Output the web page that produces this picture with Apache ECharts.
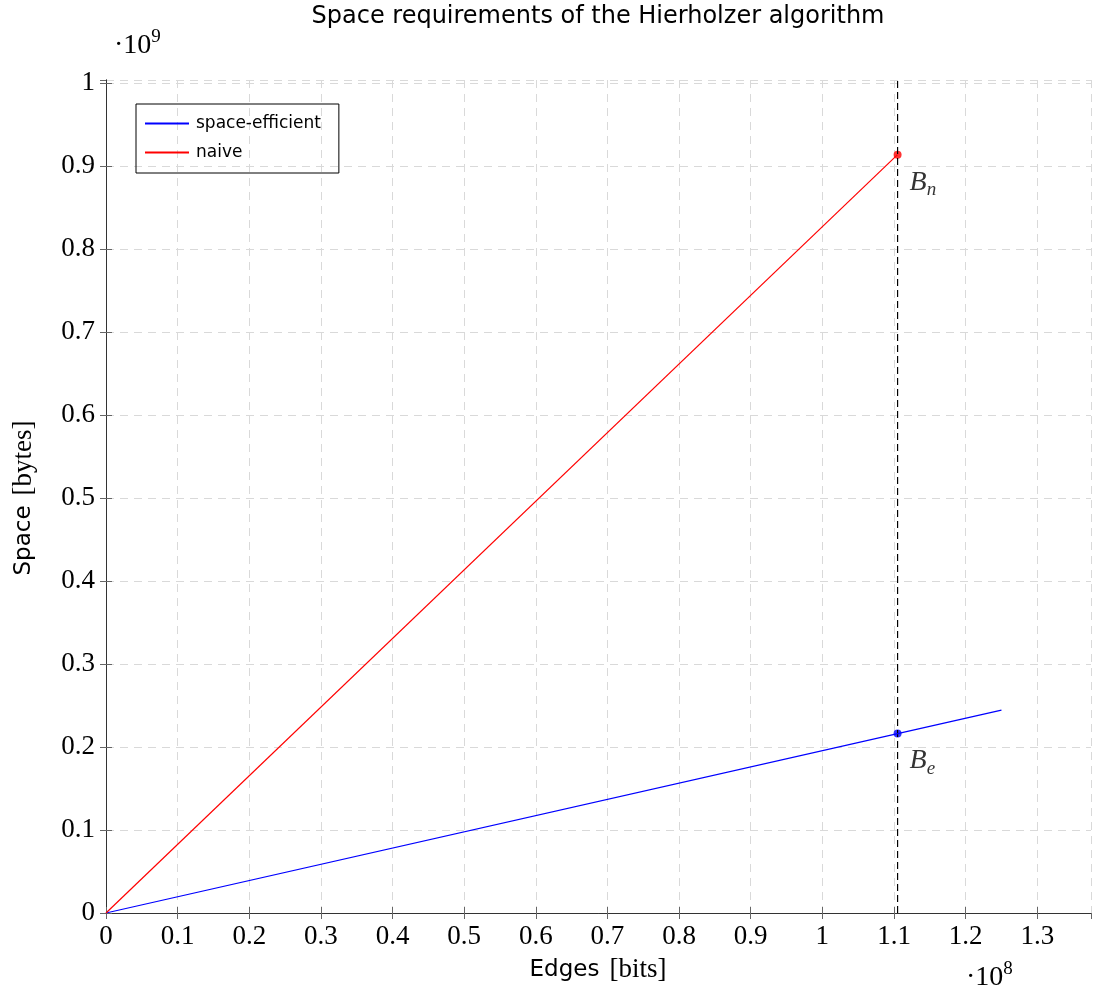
<!DOCTYPE html>
<html>
<head>
<meta charset="utf-8">
<script src="https://cdn.jsdelivr.net/npm/echarts@6/dist/echarts.min.js"></script>
<style>
  html, body { margin: 0; padding: 0; background: #fff; }
  #chart { width: 1094px; height: 994px; }
</style>
</head>
<body>
<div id="chart"></div>
<script>
// data, in axis units (x: 1e8 bits, y: 1e9 bytes)
var efficientX = [0, 1.105, 1.25]
var efficientY = [0, 0.2162, 0.2446]
var naiveX = [0, 1.105]
var naiveY = [0, 0.914]
var boundX = [1.105, 1.105]   // dashed marker line
var boundY = [0, 1.004]
var pointNames = ['n', 'e']   // subscripts of B_n, B_e
var pointX = [1.105, 1.105]
var pointY = [0.914, 0.2162]

var serif = '"Liberation Serif", "DejaVu Serif", serif'
var sans = '"DejaVu Sans", "Noto Sans", sans-serif'

function pairs(xs, ys) {
  return xs.map(function (x, i) { return [x, ys[i]] })
}

var myChart = echarts.init(document.getElementById('chart'))

var axisCommon = {
  type: 'value',
  interval: 0.1,
  axisLine: { show: true, lineStyle: { color: '#333', width: 1 } },
  axisTick: { show: true, inside: true, length: 6, lineStyle: { color: '#666' } },
  splitLine: { show: false }
}

// sans word + serif unit, like the LaTeX labels
var nameRich = {
  word: { fontFamily: sans, fontSize: 23, fill: '#000' },
  unit: { fontFamily: serif, fontSize: 27, fill: '#000', padding: [0, 0, 0, 10] }
}
var powRich = {
  d: { font: '28px ' + serif, fill: '#000' },
  e: { font: '19px ' + serif, fill: '#000', padding: [0, 0, 16, 0] }
}

var option = {
  animation: false,
  grid: { left: 106, right: 3, top: 80, bottom: 81, show: false, outerBoundsMode: 'none', containLabel: false },
  graphic: [
    {
      type: 'text', x: 598, y: 5,
      style: { text: 'Space requirements of the Hierholzer algorithm', font: '24px ' + sans, fill: '#000', align: 'center' }
    },
    { type: 'text', x: 114, y: 28, style: { text: '{d|·10}{e|9}', rich: powRich } },
    { type: 'text', x: 966, y: 960, style: { text: '{d|·10}{e|8}', rich: powRich } },
    {
      type: 'text', x: 598, y: 970,
      style: { text: '{word|Edges}{unit|[bits]}', rich: nameRich, align: 'center', verticalAlign: 'middle' }
    },
    {
      type: 'text', x: 24, y: 498, rotation: Math.PI / 2,
      style: { text: '{word|Space}{unit|[bytes]}', rich: nameRich, align: 'center', verticalAlign: 'middle' }
    }
  ],
  legend: {
    left: 136, top: 104,
    orient: 'vertical',
    borderColor: '#000', borderWidth: 1,
    padding: [11, 18, 12, 9],
    itemGap: 12,
    itemWidth: 44, itemHeight: 2,
    icon: 'rect',
    textStyle: { fontFamily: sans, fontSize: 17, color: '#000', padding: [0, 0, 0, 2] },
    data: ['space-efficient', 'naive']
  },
  xAxis: [
    Object.assign({}, axisCommon, {
      min: 0, max: 1.375,
      position: 'bottom',
      axisLabel: { showMaxLabel: false, margin: 10, fontFamily: serif, fontSize: 27, color: '#000' },
      splitLine: { show: true, lineStyle: { color: '#d9d9d9', type: [8, 6], width: 1 } }
    }),
    Object.assign({}, axisCommon, {
      min: 0, max: 1.375, position: 'top', axisLabel: { show: false }
    })
  ],
  yAxis: [
    Object.assign({}, axisCommon, {
      min: 0, max: 1.004,
      position: 'left',
      axisLabel: { showMaxLabel: false, margin: 11, fontFamily: serif, fontSize: 27, color: '#000' },
      splitLine: { show: true, lineStyle: { color: '#d9d9d9', type: [8, 6], width: 1 } }
    }),
    Object.assign({}, axisCommon, {
      min: 0, max: 1.004, position: 'right', axisLabel: { show: false }
    })
  ],
  series: [
    {
      name: 'bound',
      type: 'line',
      data: pairs(boundX, boundY),
      showSymbol: false,
      color: '#000',
      lineStyle: { width: 1.2, type: [7, 4] },
      silent: true
    },
    {
      name: 'space-efficient',
      type: 'line',
      data: pairs(efficientX, efficientY),
      showSymbol: false,
      color: '#0000ff',
      lineStyle: { width: 1.2 }
    },
    {
      name: 'naive',
      type: 'line',
      data: pairs(naiveX, naiveY),
      showSymbol: false,
      color: '#ff0000',
      lineStyle: { width: 1.2 }
    },
    {
      name: 'points',
      type: 'scatter',
      symbolSize: 8,
      data: pointX.map(function (x, i) {
        return {
          value: [x, pointY[i]],
          name: pointNames[i],
          itemStyle: { color: i === 0 ? '#ff0000' : '#0000ff' }
        }
      }),
      label: {
        show: true,
        position: [16, 14],
        formatter: function (p) { return '{b|B}{s|' + p.name + '}' },
        rich: {
          b: { fontFamily: serif, fontStyle: 'italic', fontSize: 28, color: '#000' },
          s: { fontFamily: serif, fontStyle: 'italic', fontSize: 19, color: '#000', padding: [16, 0, 0, 0] }
        }
      }
    }
  ]
}

myChart.setOption(option)
window.addEventListener('resize', function () { myChart.resize() })
</script>
</body>
</html>
